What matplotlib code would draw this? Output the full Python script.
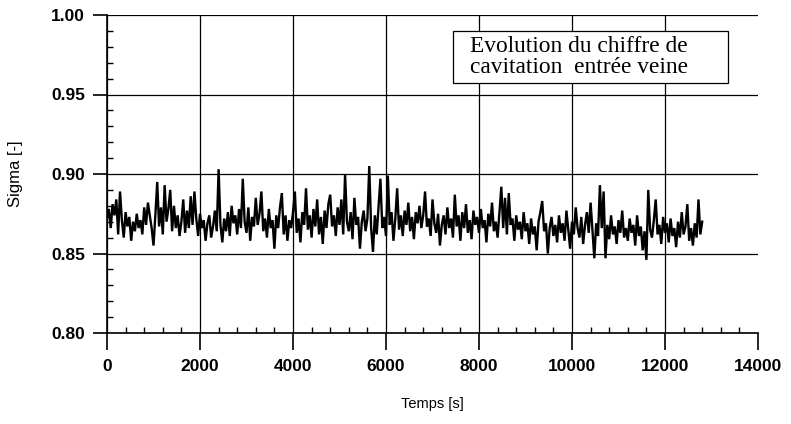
import numpy as np
import matplotlib
matplotlib.use("Agg")
import matplotlib.pyplot as plt
from matplotlib.patches import Rectangle
from matplotlib.ticker import MultipleLocator, FormatStrFormatter

# ---- data ----
t_start = 0          # s
t_step = 40          # s between samples
sigma = [
    0.872, 0.878, 0.866, 0.881, 0.874, 0.884, 0.862, 0.889, 0.871, 0.860, 0.876, 0.867, 0.873, 0.858, 0.870, 0.864, 0.875, 0.866, 0.871, 0.862,
    0.879, 0.868, 0.882, 0.874, 0.866, 0.855, 0.874, 0.895, 0.867, 0.879, 0.862, 0.893, 0.870, 0.878, 0.890, 0.864, 0.880, 0.866, 0.874, 0.861,
    0.870, 0.884, 0.863, 0.877, 0.866, 0.886, 0.868, 0.889, 0.872, 0.861, 0.875, 0.866, 0.871, 0.858, 0.869, 0.874, 0.860, 0.867, 0.877, 0.864,
    0.903, 0.868, 0.857, 0.872, 0.864, 0.876, 0.861, 0.880, 0.869, 0.874, 0.862, 0.878, 0.866, 0.897, 0.870, 0.863, 0.879, 0.858, 0.873, 0.867,
    0.885, 0.868, 0.875, 0.889, 0.864, 0.872, 0.860, 0.878, 0.866, 0.871, 0.853, 0.874, 0.866, 0.879, 0.888, 0.862, 0.874, 0.858, 0.871, 0.866,
    0.876, 0.889, 0.863, 0.872, 0.857, 0.876, 0.868, 0.891, 0.865, 0.874, 0.860, 0.878, 0.867, 0.884, 0.862, 0.873, 0.856, 0.877, 0.866, 0.881,
    0.887, 0.867, 0.874, 0.861, 0.879, 0.868, 0.884, 0.862, 0.900, 0.870, 0.864, 0.876, 0.859, 0.885, 0.868, 0.873, 0.853, 0.870, 0.877, 0.864,
    0.872, 0.905, 0.866, 0.851, 0.874, 0.862, 0.879, 0.897, 0.866, 0.873, 0.861, 0.899, 0.868, 0.876, 0.858, 0.872, 0.891, 0.865, 0.874, 0.861,
    0.877, 0.868, 0.882, 0.864, 0.873, 0.859, 0.876, 0.869, 0.880, 0.866, 0.874, 0.889, 0.867, 0.872, 0.861, 0.884, 0.869, 0.863, 0.875, 0.855,
    0.868, 0.874, 0.862, 0.879, 0.866, 0.872, 0.860, 0.887, 0.867, 0.874, 0.858, 0.876, 0.866, 0.881, 0.863, 0.871, 0.859, 0.877, 0.868, 0.873,
    0.863, 0.878, 0.866, 0.871, 0.857, 0.875, 0.867, 0.882, 0.864, 0.870, 0.860, 0.876, 0.892, 0.866, 0.885, 0.862, 0.888, 0.868, 0.872, 0.858,
    0.874, 0.865, 0.870, 0.859, 0.876, 0.864, 0.869, 0.856, 0.872, 0.862, 0.867, 0.852, 0.870, 0.876, 0.883, 0.864, 0.869, 0.850, 0.866, 0.873,
    0.861, 0.868, 0.857, 0.874, 0.863, 0.869, 0.858, 0.877, 0.865, 0.853, 0.870, 0.862, 0.879, 0.866, 0.860, 0.873, 0.856, 0.868, 0.876, 0.863,
    0.882, 0.864, 0.847, 0.869, 0.861, 0.893, 0.866, 0.889, 0.847, 0.868, 0.859, 0.874, 0.862, 0.867, 0.856, 0.871, 0.863, 0.877, 0.860, 0.866,
    0.858, 0.872, 0.863, 0.868, 0.855, 0.874, 0.861, 0.867, 0.852, 0.864, 0.846, 0.890, 0.865, 0.860, 0.871, 0.884, 0.862, 0.868, 0.856, 0.873,
    0.863, 0.869, 0.857, 0.872, 0.861, 0.866, 0.854, 0.870, 0.860, 0.876, 0.862, 0.867, 0.881, 0.858, 0.866, 0.855, 0.869, 0.860, 0.884, 0.862,
    0.870,
]
time = t_start + t_step * np.arange(len(sigma))

x_ticks = [0, 2000, 4000, 6000, 8000, 10000, 12000, 14000]
y_ticks = [0.80, 0.85, 0.90, 0.95, 1.00]
x_label = "Temps [s]"
y_label = "Sigma [-]"
box_text = "Evolution du chiffre de\ncavitation  entrée veine"

# ---- figure ----
fig = plt.figure(figsize=(7.91, 4.24), dpi=100)
ax = fig.add_axes([107/791, 1-333/424, 651/791, 318/424])

ax.plot(time, sigma, color="black", linewidth=1.7, solid_joinstyle="miter", zorder=3)

ax.set_xlim(0, 14000)
ax.set_ylim(0.80, 1.00)
ax.set_xticks(x_ticks)
ax.set_yticks(y_ticks)
ax.xaxis.set_minor_locator(MultipleLocator(400))
ax.yaxis.set_minor_locator(MultipleLocator(0.01))
ax.yaxis.set_major_formatter(FormatStrFormatter("%.2f"))

for lab in ax.get_xticklabels() + ax.get_yticklabels():
    lab.set_fontfamily("Liberation Sans")
    lab.set_fontsize(12.5)
    lab.set_fontweight("bold")

ax.tick_params(axis="x", which="major", direction="out", length=12, width=1.2, pad=7)
ax.tick_params(axis="y", which="major", direction="out", length=10, width=1.2, pad=6)
ax.tick_params(axis="x", which="minor", direction="in", length=4.5, width=1.0)
ax.tick_params(axis="y", which="minor", direction="in", length=4, width=1.0)

ax.grid(True, which="major", color="black", linewidth=0.9)
# no vertical line at the right edge
ax.get_xgridlines()[-1].set_visible(False)
ax.set_axisbelow(True)

for s in ["top", "right"]:
    ax.spines[s].set_visible(False)
for s in ["left", "bottom"]:
    ax.spines[s].set_linewidth(1.2)

ax.set_xlabel(x_label, fontfamily="Liberation Sans", fontsize=10.5, labelpad=16)
ax.set_ylabel(y_label, fontfamily="Liberation Sans", fontsize=12, labelpad=20)

# annotation box
rect = Rectangle((346/651, 1-68/318), 275/651, 52/318, transform=ax.transAxes,
                 facecolor="white", edgecolor="black", linewidth=0.9, zorder=4)
ax.add_patch(rect)
ax.text(472/651, 1-42/318, box_text, transform=ax.transAxes,
        ha="center", va="center", multialignment="center",
        fontfamily="Liberation Serif", fontsize=16.8, linespacing=1.02, zorder=5)

fig.savefig("out.png", dpi=100)
